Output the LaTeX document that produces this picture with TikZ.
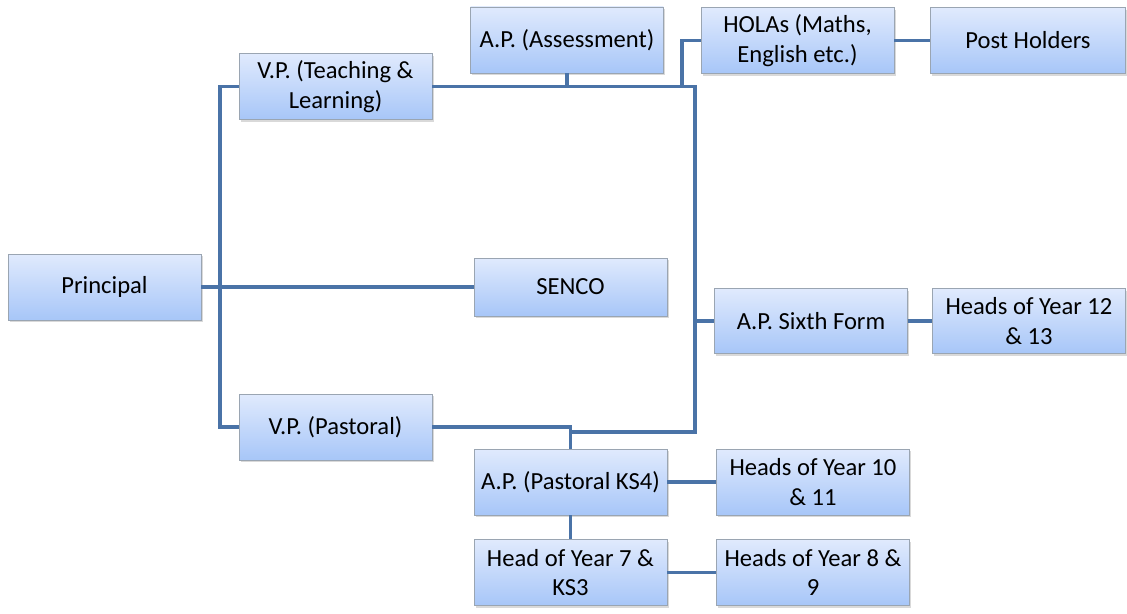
\documentclass[tikz,border=0pt]{standalone}
\usepackage{fontspec}
\setmainfont{Carlito}
\usepackage{tikz}
\usetikzlibrary{shadows}
\usetikzlibrary{calc}
\usetikzlibrary{positioning}
\definecolor{boxtop}{HTML}{E0EAFD}
\definecolor{boxbottom}{HTML}{A7C6F8}
\definecolor{boxline}{HTML}{9AA5B2}
\definecolor{linkblue}{HTML}{4A73A7}
\tikzset{every text node part/.style={align=center, font={\fontsize{14}{17}\selectfont}}}
\tikzstyle{block} = [draw=boxline, top color=boxtop, bottom color=boxbottom, inner sep=1pt, minimum width=3.86cm, minimum height=1.32cm, drop shadow={opacity=0.3, shadow xshift=1pt, shadow yshift=-1.2pt}]
\tikzstyle{ln} = [draw=linkblue, line width=2.2pt]

\begin{document}
\begin{tikzpicture}[x=0.02cm, y=-0.02cm]
  \useasboundingbox (0,0) rectangle (1127,614);
  \node[block] (principal) at (104.5,287) {Principal};
  \node[block] (vpteach) at (335.5,86.5) {V.P. (Teaching \&\\ Learning)};
  \node[block] (apassess) at (567,40) {A.P. (Assessment)};
  \node[block] (holas) at (797.5,40.5) {HOLAs (Maths,\\ English etc.)};
  \node[block, minimum width=3.9cm] (postholders) at (1028,40.5) {Post Holders};
  \node[block, minimum height=1.16cm] (senco) at (570.5,287) {SENCO};
  \node[block, minimum height=1.3cm] (apsixth) at (811,321) {A.P. Sixth Form};
  \node[block, minimum height=1.3cm] (hoytwelve) at (1029,321) {Heads of Year 12\\ \& 13};
  \node[block] (vppast) at (335.5,427) {V.P. (Pastoral)};
  \node[block] (apks4) at (570.5,482) {A.P. (Pastoral KS4)};
  \node[block] (hoyten) at (813,482) {Heads of Year 10\\ \& 11};
  \node[block] (hoyseven) at (570.5,572.5) {Head of Year 7 \&\\ KS3};
  \node[block] (hoyeight) at (813,572.5) {Heads of Year 8 \&\\ 9};
  \coordinate (spine) at (220,287);
  \coordinate (holjoin) at (682,87);
  \coordinate (trunk) at (695,432);
  \draw[ln] (principal.east) -- (senco.west);
  \draw[ln] (vpteach.west) -| (spine) |- (vppast.west);
  \draw[ln] (vpteach.east) -| (apassess.south);
  \draw[ln] (vpteach.east) -| (holjoin) |- (holas.west);
  \draw[ln] (vpteach.east) -| (trunk) -| (apks4.north);
  \draw[ln] (trunk |- apsixth.west) -- (apsixth.west);
  \draw[ln] (vppast.east) -| (apks4.north);
  \draw[ln] (holas.east) -- (postholders.west);
  \draw[ln] (apsixth.east) -- (hoytwelve.west);
  \draw[ln] (apks4.east) -- (hoyten.west);
  \draw[ln] (apks4.south) -- (hoyseven.north);
  \draw[ln] (hoyseven.east) -- (hoyeight.west);
\end{tikzpicture}
\end{document}
